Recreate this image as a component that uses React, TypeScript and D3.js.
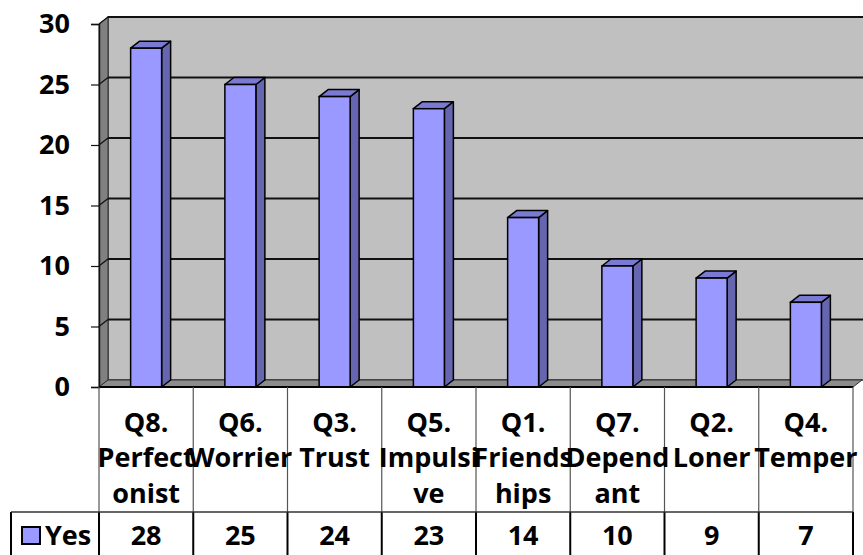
import React, { useEffect, useRef } from "react"
import * as d3 from "d3"

const categories = ["Q8", "Q6", "Q3", "Q5", "Q1", "Q7", "Q2", "Q4"];
const labelLines = [
    ["Q8.", "Perfect", "onist"],
    ["Q6.", "Worrier"],
    ["Q3.", "Trust"],
    ["Q5.", "Impulsi", "ve"],
    ["Q1.", "Friends", "hips"],
    ["Q7.", "Depend", "ant"],
    ["Q2.", "Loner"],
    ["Q4.", "Temper"],
];
const yesValues = [28, 25, 24, 23, 14, 10, 9, 7];
const yTicks = [0, 5, 10, 15, 20, 25, 30];
const seriesName = "Yes";

const W = 863;
const H = 555;

const App = () => {
    const ref = useRef<SVGGElement>(null);

    useEffect(() => {
        const g = d3.select(ref.current);
        g.selectAll('*').remove();

        const font = "'Open Sans', sans-serif";
        const fontSize = 27;

        // front plane of the 3d box
        const left = 99, right = 853;
        const dx = 9, dy = -7;

        const xScale = d3.scaleBand<string>()
            .domain(categories)
            .range([left, right]);

        const yScale = d3.scaleLinear()
            .domain([0, 30])
            .range([387, 24]);

        const y0 = yScale(0);
        const yTop = yScale(30);

        // back wall
        g.append('rect')
            .attr('x', left + dx)
            .attr('y', yTop + dy)
            .attr('width', W - left - dx + 2)
            .attr('height', y0 - yTop)
            .attr('fill', '#c0c0c0')
            .attr('stroke', '#333')
            .attr('stroke-width', 1.5);

        // side wall
        g.append('polygon')
            .attr('points', [
                [left, yTop], [left + dx, yTop + dy], [left + dx, y0 + dy], [left, y0]
            ].map(p => p.join(',')).join(' '))
            .attr('fill', '#808080')
            .attr('stroke', '#333')
            .attr('stroke-width', 1);

        // floor
        g.append('polygon')
            .attr('points', [
                [left, y0], [left + dx, y0 + dy], [right + dx, y0 + dy], [right, y0]
            ].map(p => p.join(',')).join(' '))
            .attr('fill', '#8c8c8c')
            .attr('stroke', '#333')
            .attr('stroke-width', 1);

        // gridlines
        const grid = g.append('g');
        yTicks.filter(t => t > 0).forEach(t => {
            const y = yScale(t);
            grid.append('line')
                .attr('x1', left + dx).attr('x2', W + 2)
                .attr('y1', y + dy).attr('y2', y + dy)
                .attr('stroke', '#111').attr('stroke-width', 1.8);
            grid.append('line')
                .attr('x1', left).attr('x2', left + dx)
                .attr('y1', y).attr('y2', y + dy)
                .attr('stroke', '#111').attr('stroke-width', 1.2);
        });

        // y axis
        const yAxisG = g.append('g')
            .attr('transform', `translate(${left}, 0)`)
            .call(d3.axisLeft(yScale).tickValues(yTicks).tickSize(8).tickPadding(21));

        yAxisG.select('.domain')
            .attr('stroke', '#111')
            .attr('stroke-width', 1.5);

        yAxisG.selectAll('line')
            .attr('stroke', '#111')
            .attr('stroke-width', 1.2);

        yAxisG.selectAll('text')
            .attr('font-family', font)
            .attr('font-size', fontSize)
            .attr('font-weight', 700)
            .attr('fill', '#000');

        // bars
        const barW = 31;
        const bars = g.append('g');
        categories.forEach((c, i) => {
            const v = yesValues[i];
            const x = xScale(c)! + (xScale.bandwidth() - barW) / 2;
            const y = yScale(v);
            bars.append('polygon')
                .attr('points', [
                    [x + barW, y], [x + barW + dx, y + dy], [x + barW + dx, y0 + dy], [x + barW, y0]
                ].map(p => p.join(',')).join(' '))
                .attr('fill', '#6666b0')
                .attr('stroke', '#000')
                .attr('stroke-width', 1.5)
                .attr('stroke-linejoin', 'round');
            bars.append('polygon')
                .attr('points', [
                    [x, y], [x + dx, y + dy], [x + barW + dx, y + dy], [x + barW, y]
                ].map(p => p.join(',')).join(' '))
                .attr('fill', '#7a7ad2')
                .attr('stroke', '#000')
                .attr('stroke-width', 1.5)
                .attr('stroke-linejoin', 'round');
            bars.append('rect')
                .attr('x', x)
                .attr('y', y)
                .attr('width', barW)
                .attr('height', y0 - y)
                .attr('fill', '#9999ff')
                .attr('stroke', '#000')
                .attr('stroke-width', 1.5);
        });

        // front floor edge
        g.append('line')
            .attr('x1', left).attr('x2', right)
            .attr('y1', y0).attr('y2', y0)
            .attr('stroke', '#000').attr('stroke-width', 2);

        // data table
        const rowTop = y0, rowMid = 512, rowBottom = H + 2;
        const legendLeft = 11;
        const table = g.append('g');

        d3.range(categories.length + 1).forEach(i => {
            const x = left + i * xScale.step();
            table.append('line')
                .attr('x1', x).attr('x2', x)
                .attr('y1', rowTop).attr('y2', rowMid)
                .attr('stroke', '#555').attr('stroke-width', 1.2);
            table.append('line')
                .attr('x1', x).attr('x2', x)
                .attr('y1', rowMid).attr('y2', rowBottom)
                .attr('stroke', '#000').attr('stroke-width', 2);
        });

        table.append('line')
            .attr('x1', legendLeft).attr('x2', legendLeft)
            .attr('y1', rowMid).attr('y2', rowBottom)
            .attr('stroke', '#000').attr('stroke-width', 2);

        table.append('line')
            .attr('x1', legendLeft).attr('x2', right)
            .attr('y1', rowMid).attr('y2', rowMid)
            .attr('stroke', '#333').attr('stroke-width', 1.5);

        const lineBase = [432, 467, 503];
        categories.forEach((c, i) => {
            const cx = xScale(c)! + xScale.bandwidth() / 2;
            labelLines[i].forEach((line, j) => {
                table.append('text')
                    .attr('x', cx)
                    .attr('y', lineBase[j])
                    .attr('text-anchor', 'middle')
                    .attr('font-family', font)
                    .attr('font-size', fontSize)
                    .attr('font-weight', 700)
                    .text(line);
            });
            table.append('text')
                .attr('x', cx)
                .attr('y', 545)
                .attr('text-anchor', 'middle')
                .attr('font-family', font)
                .attr('font-size', fontSize)
                .attr('font-weight', 700)
                .text(yesValues[i]);
        });

        // legend key
        table.append('rect')
            .attr('x', 22).attr('y', 527)
            .attr('width', 18).attr('height', 17)
            .attr('fill', '#9999ff')
            .attr('stroke', '#000')
            .attr('stroke-width', 2);

        table.append('text')
            .attr('x', 45)
            .attr('y', 545)
            .attr('font-family', font)
            .attr('font-size', fontSize)
            .attr('font-weight', 700)
            .text(seriesName);
    }, []);

    return (
        <div>
            <svg width={W} height={H} style={{ position: 'absolute', left: 0, top: 0, background: '#fff' }}>
                <g ref={ref} />
            </svg>
        </div>
    )
}

export default App;
